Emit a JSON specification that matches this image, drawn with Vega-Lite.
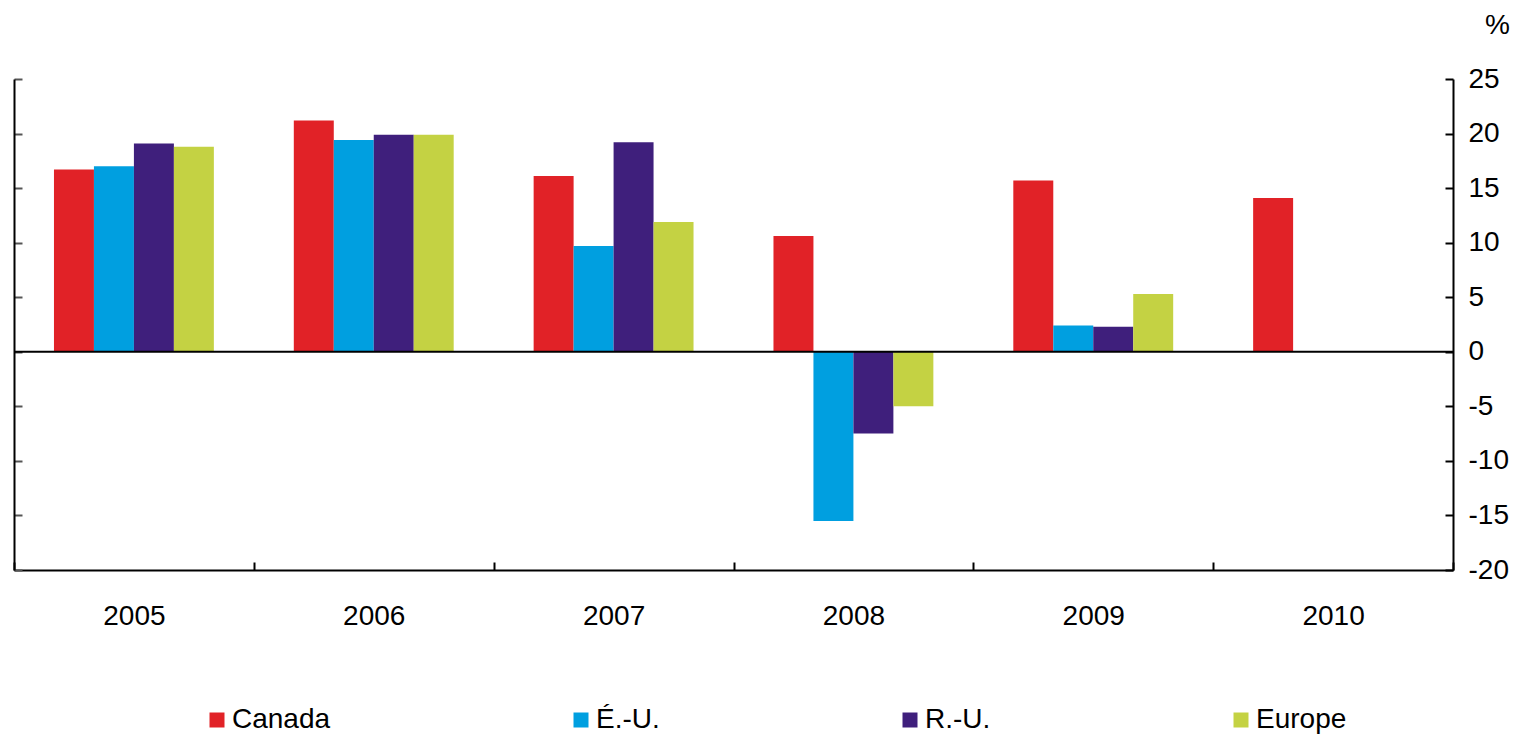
{
  "$schema": "https://vega.github.io/schema/vega-lite/v6.json",
  "width": 1439,
  "height": 491,
  "autosize": "none",
  "padding": {"left": 14, "top": 79, "right": 72, "bottom": 166},
  "background": "white",
  "config": {
    "view": {"stroke": null},
    "font": "Liberation Sans",
    "axis": {"labelFont": "Liberation Sans", "titleFont": "Liberation Sans", "grid": false}
  },
  "data": {
    "values": [
      {"year": "2005", "series": "Canada", "value": 16.7},
      {"year": "2005", "series": "É.-U.", "value": 17.0},
      {"year": "2005", "series": "R.-U.", "value": 19.1},
      {"year": "2005", "series": "Europe", "value": 18.8},
      {"year": "2006", "series": "Canada", "value": 21.2},
      {"year": "2006", "series": "É.-U.", "value": 19.4},
      {"year": "2006", "series": "R.-U.", "value": 19.9},
      {"year": "2006", "series": "Europe", "value": 19.9},
      {"year": "2007", "series": "Canada", "value": 16.1},
      {"year": "2007", "series": "É.-U.", "value": 9.7},
      {"year": "2007", "series": "R.-U.", "value": 19.2},
      {"year": "2007", "series": "Europe", "value": 11.9},
      {"year": "2008", "series": "Canada", "value": 10.6},
      {"year": "2008", "series": "É.-U.", "value": -15.5},
      {"year": "2008", "series": "R.-U.", "value": -7.5},
      {"year": "2008", "series": "Europe", "value": -5.0},
      {"year": "2009", "series": "Canada", "value": 15.7},
      {"year": "2009", "series": "É.-U.", "value": 2.4},
      {"year": "2009", "series": "R.-U.", "value": 2.3},
      {"year": "2009", "series": "Europe", "value": 5.3},
      {"year": "2010", "series": "Canada", "value": 14.1}
    ]
  },
  "layer": [
    {
      "mark": {"type": "bar", "strokeWidth": 0},
      "encoding": {
        "x": {
          "field": "year",
          "type": "nominal",
          "scale": {"paddingInner": 0, "paddingOuter": 0},
          "axis": {
            "orient": "bottom",
            "title": null,
            "labelAngle": 0,
            "labelFontSize": 28,
            "labelColor": "black",
            "labelPadding": 40,
            "tickBand": "extent",
            "tickSize": -8,
            "tickWidth": 2,
            "tickColor": "black",
            "domainColor": "black",
            "domainWidth": 2
          }
        },
        "xOffset": {
          "field": "series",
          "type": "nominal",
          "scale": {"domain": ["Canada", "É.-U.", "R.-U.", "Europe"], "paddingInner": 0, "paddingOuter": 1}
        },
        "y": {
          "field": "value",
          "type": "quantitative",
          "scale": {"domain": [-20, 25], "nice": false, "zero": false},
          "axis": {
            "orient": "right",
            "values": [-20, -15, -10, -5, 0, 5, 10, 15, 20, 25],
            "labelExpr": "replace(datum.label, '−', '-')",
            "title": "%",
            "titleAngle": 0,
            "titleFontSize": 28,
            "titleFontWeight": "normal",
            "titleColor": "black",
            "titleAlign": "center",
            "titleBaseline": "middle",
            "titleX": 44,
            "titleY": -54,
            "labelFontSize": 28,
            "labelColor": "black",
            "labelPadding": 23,
            "labelBaseline": "middle",
            "tickSize": -8,
            "tickWidth": 2,
            "tickColor": "black",
            "domainColor": "black",
            "domainWidth": 2
          }
        },
        "color": {
          "field": "series",
          "type": "nominal",
          "scale": {
            "domain": ["Canada", "É.-U.", "R.-U.", "Europe"],
            "range": ["#E12227", "#009FE0", "#3F1F7C", "#C4D243"]
          },
          "legend": {
            "title": null,
            "orient": "none",
            "legendX": 189,
            "legendY": 627,
            "direction": "horizontal",
            "columns": 4,
            "columnPadding": 236,
            "symbolType": "square",
            "symbolSize": 225,
            "symbolStrokeWidth": 0,
            "symbolOffset": 0,
            "labelFontSize": 28,
            "labelColor": "black",
            "labelOffset": 1
          }
        }
      }
    },
    {
      "data": {"values": [{"zero": 0}]},
      "mark": {"type": "rule", "color": "black", "strokeWidth": 2},
      "encoding": {
        "y": {
          "field": "zero",
          "type": "quantitative",
          "axis": {
            "orient": "left",
            "values": [-20, -15, -10, -5, 0, 5, 10, 15, 20, 25],
            "title": null,
            "labels": false,
            "tickSize": -8,
            "tickWidth": 2,
            "tickColor": "#555555",
            "domainColor": "black",
            "domainWidth": 2
          }
        }
      }
    }
  ],
  "resolve": {"axis": {"y": "independent"}}
}
